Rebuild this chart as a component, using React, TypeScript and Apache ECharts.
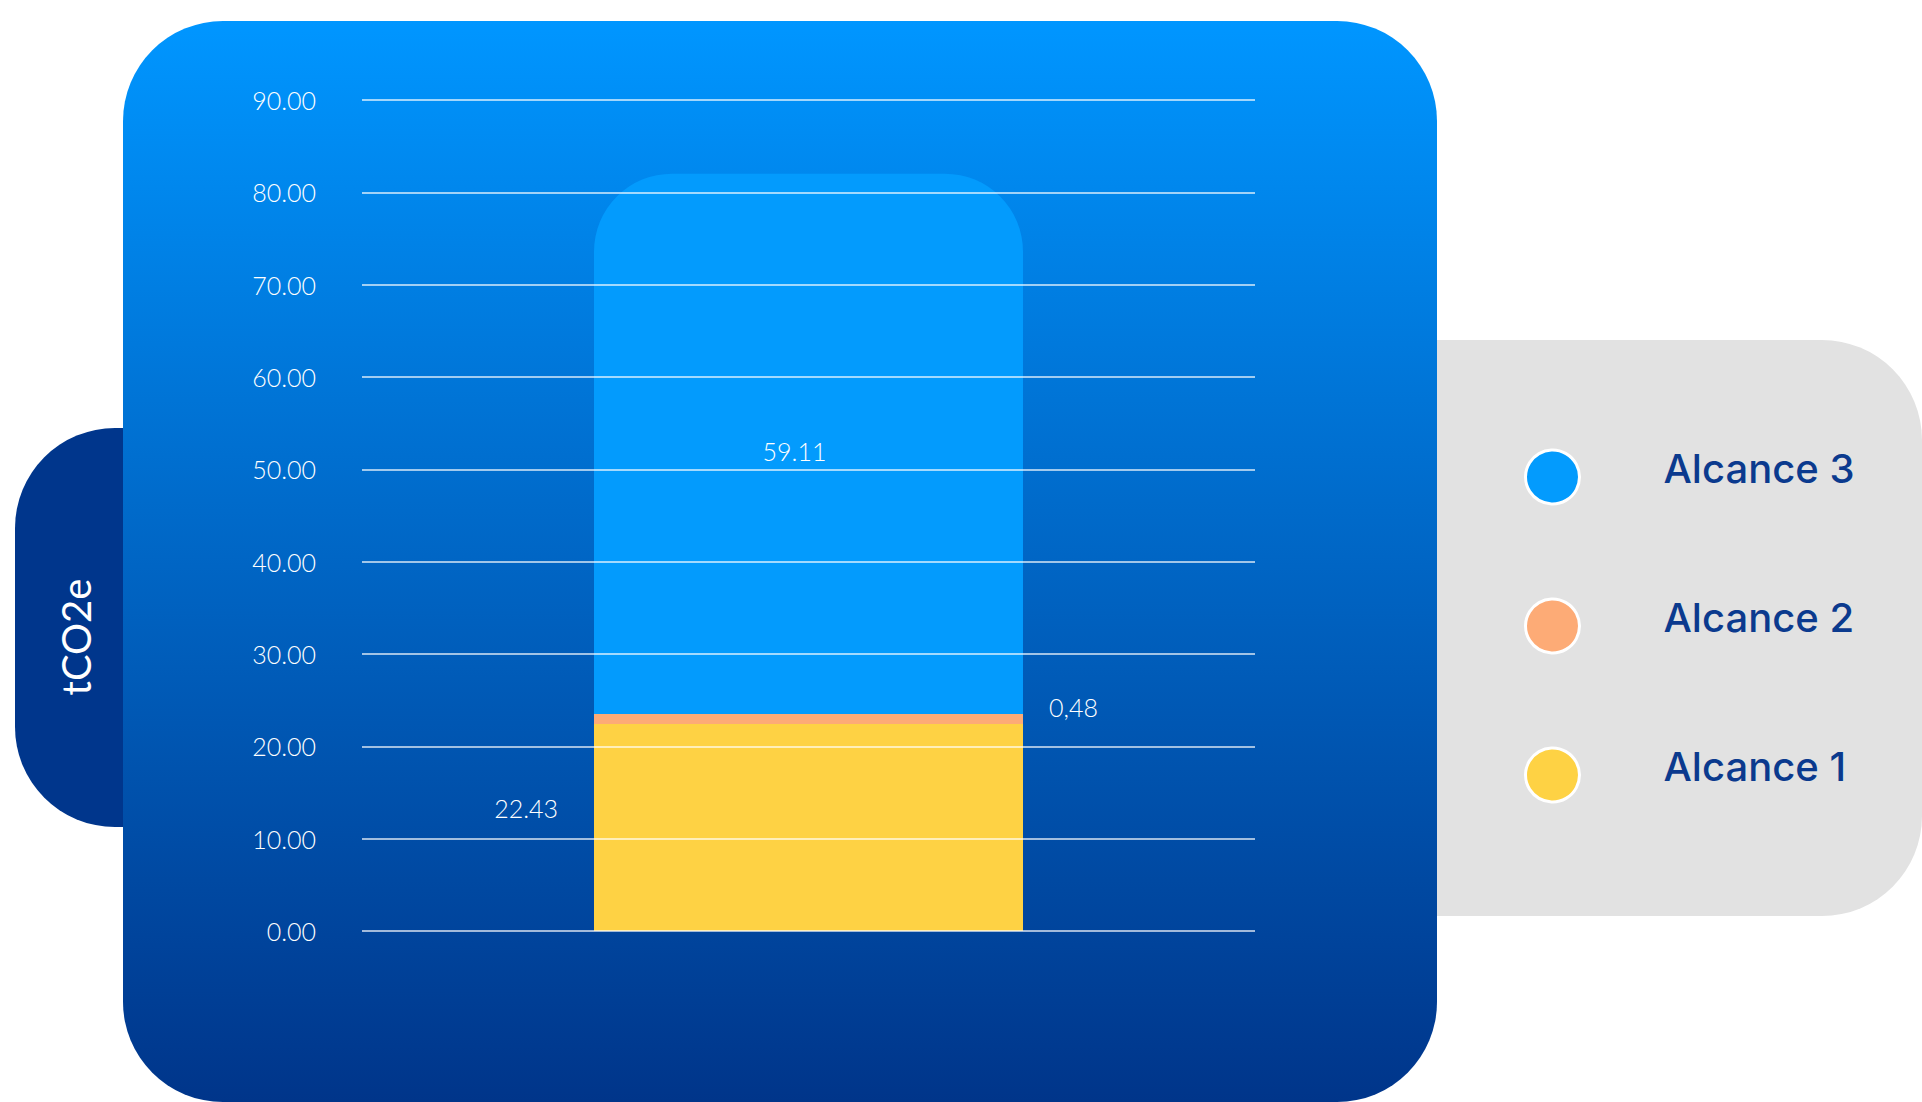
import React, { useEffect, useRef } from 'react';
import * as echarts from 'echarts';

const categories = ['Emisiones'];
const alcance1 = [22.43];
const alcance2 = [0.48];
const alcance3 = [59.11];
const yMin = 0;
const yMax = 90;
const yInterval = 10;
const legendOrder = ['Alcance 3', 'Alcance 2', 'Alcance 1'];
const axisTitle = 'tCO2e';

const colors = { a1: '#FED244', a2: '#FDAB76', a3: '#039BFD' };

export default function App() {
  const ref = useRef<HTMLDivElement>(null);
  useEffect(() => {
    document.body.style.margin = '0';
    document.body.style.overflow = 'hidden';
    const chart = echarts.init(ref.current!, null, { renderer: 'svg' });
    const labelFont = { color: '#ffffff', fontFamily: 'Lato', fontWeight: 300, fontSize: 25 };
    chart.setOption({
      animation: false,
      backgroundColor: '#ffffff',
      graphic: [
        {
          type: 'rect', z: -10,
          shape: { x: 15, y: 428, width: 200, height: 399, r: [100, 0, 0, 100] },
          style: { fill: '#00368C' },
        },
        {
          type: 'rect', z: -10,
          shape: { x: 1300, y: 340, width: 622, height: 576, r: [0, 100, 100, 0] },
          style: { fill: '#E2E2E2' },
        },
        {
          type: 'rect', z: -9,
          shape: { x: 123, y: 21, width: 1314, height: 1081, r: 100 },
          style: {
            fill: {
              type: 'linear', x: 0, y: 0, x2: 0, y2: 1,
              colorStops: [
                { offset: 0, color: '#0096FF' },
                { offset: 1, color: '#00358A' },
              ],
            },
          },
        },
        {
          type: 'text', z: -8, x: 76, y: 637, rotation: Math.PI / 2,
          style: {
            text: axisTitle, fill: '#ffffff', fontFamily: 'Lato', fontWeight: 400, fontSize: 40,
            align: 'center', verticalAlign: 'middle',
          },
        },
      ],
      legend: {
        orient: 'vertical', left: 1524, top: 448, padding: 0,
        itemWidth: 54, itemHeight: 54, itemGap: 91.5, icon: 'circle',
        data: legendOrder, selectedMode: false,
        itemStyle: { borderColor: '#ffffff', borderWidth: 3 },
        formatter: '{g|}{name}\n{s|}',
        textStyle: {
          color: '#0B3A8E', fontFamily: 'Inter', fontWeight: 500, fontSize: 40,
          rich: {
            g: { width: 79, fontSize: 40 },
            s: { lineHeight: 18, fontSize: 1 },
          },
        },
      },
      grid: { left: 362, top: 100, width: 893, height: 831 },
      xAxis: {
        type: 'category', data: categories,
        axisLine: { show: false }, axisTick: { show: false }, axisLabel: { show: false },
      },
      yAxis: {
        type: 'value', min: yMin, max: yMax, interval: yInterval, z: 10,
        axisLine: { show: false }, axisTick: { show: false },
        splitLine: { lineStyle: { color: 'rgba(255,255,255,0.85)', width: 1.5 } },
        axisLabel: { ...labelFont, margin: 46, formatter: (v: number) => v.toFixed(2) },
      },
      series: [
        {
          name: 'Alcance 1', type: 'bar', stack: 'total', data: alcance1, barWidth: 429,
          itemStyle: { color: colors.a1 },
          label: {
            show: true, position: 'left', distance: 36, offset: [0, -19], ...labelFont,
            formatter: (p: any) => Number(p.value).toFixed(2),
          },
        },
        {
          name: 'Alcance 2', type: 'bar', stack: 'total', data: alcance2, barWidth: 429,
          barMinHeight: 10, z: 3,
          itemStyle: { color: colors.a2 },
          label: {
            show: true, position: 'right', distance: 26, offset: [0, -12], ...labelFont,
            formatter: (p: any) => Number(p.value).toFixed(2).replace('.', ','),
          },
        },
        {
          name: 'Alcance 3', type: 'bar', stack: 'total', data: alcance3, barWidth: 429,
          itemStyle: { color: colors.a3, borderRadius: [78, 78, 0, 0] },
          label: {
            show: true, position: 'inside', offset: [-14, 4], ...labelFont,
            formatter: (p: any) => Number(p.value).toFixed(2),
          },
        },
      ],
    });
    return () => chart.dispose();
  }, []);
  return <div ref={ref} style={{ width: 1922, height: 1102 }} />;
}
